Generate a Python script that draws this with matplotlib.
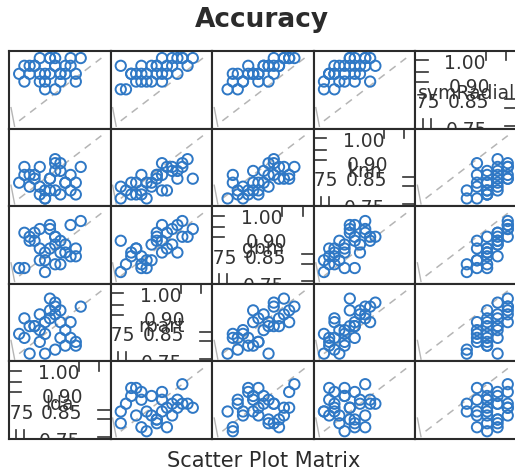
import matplotlib.pyplot as plt
import numpy as np

plt.rcParams['font.family'] = ['DejaVu Sans']

# resample accuracies for each model
names = ["lda", "rpart", "gbm", "knn", "svmRadial"]
lda = [0.883, 0.800, 0.917, 0.750, 0.850, 0.833, 0.767, 0.900, 0.817, 0.867,
       0.783, 0.850, 0.933, 0.800, 0.733, 0.867, 0.833, 0.900, 0.767, 0.817,
       0.850, 0.883, 0.800, 0.750, 0.833, 0.867, 0.783, 0.917, 0.817, 0.850]
rpart = [0.833, 0.900, 0.767, 0.800, 0.950, 0.883, 0.733, 0.867, 0.817, 0.917,
         0.850, 0.750, 0.933, 0.783, 0.817, 0.867, 0.967, 0.800, 0.850, 0.733,
         0.900, 0.767, 0.833, 0.883, 0.917, 0.800, 0.850, 0.783, 0.867, 0.933]
gbm = [0.867, 0.933, 0.817, 0.767, 0.900, 0.850, 0.883, 0.950, 0.800, 0.833,
       0.917, 0.783, 0.967, 0.850, 0.767, 0.883, 0.933, 0.817, 0.900, 0.750,
       0.867, 0.833, 0.800, 0.917, 0.950, 0.783, 0.883, 0.850, 0.833, 0.900]
knn = [0.800, 0.867, 0.750, 0.833, 0.900, 0.767, 0.783, 0.833, 0.733, 0.850,
       0.817, 0.767, 0.867, 0.750, 0.800, 0.883, 0.817, 0.767, 0.833, 0.733,
       0.850, 0.800, 0.783, 0.867, 0.817, 0.750, 0.833, 0.800, 0.767, 0.883]
svm = [0.967, 1.000, 0.933, 0.900, 0.967, 0.933, 0.967, 1.000, 0.900, 0.933,
       0.967, 0.867, 1.000, 0.933, 0.933, 0.900, 1.000, 0.967, 0.933, 0.867,
       0.967, 0.933, 0.900, 0.967, 1.000, 0.933, 0.967, 0.900, 0.933, 1.000]
values = [lda, rpart, gbm, knn, svm]

lims = (0.70, 1.03)
lo_all = np.min(values)
hi_all = np.max(values)

W, H = 515, 472
left, top = 9, 51
pw, ph = 101.6, 77.6
blue = "#2f78c5"
frame = "#2b2b2b"

fig = plt.figure(figsize=(W / 100, H / 100), dpi=100)

for r in range(5):
    for c in range(5):
        ax = fig.add_axes([(left + c * pw) / W, 1 - (top + (r + 1) * ph) / H, pw / W, ph / H])
        xi, yi = c, 4 - r
        ax.set_xlim(lims)
        ax.set_ylim(lims)
        ax.set_xticks([])
        ax.set_yticks([])
        for s in ax.spines.values():
            s.set_color(frame)
            s.set_linewidth(1.5)
        if xi == yi:
            tr = ax.transAxes
            kw = dict(transform=tr, fontsize=13.5, color="#333333", ha="center", va="center", clip_on=True)
            ax.text(0.49, 0.84, "1.00", **kw)
            ax.text(0.53, 0.53, "0.90", **kw)
            ax.text(0.50, 0.45, names[xi], **kw)
            ax.text(0.52, 0.33, "0.85", **kw)
            ax.text(0.04, 0.33, "0.75", **kw)
            ax.text(0.50, -0.03, "0.75", **kw)
            tk = dict(transform=tr, color="#333333", lw=1.2, clip_on=False)
            for yy in [0.88, 0.73, 0.60]:
                ax.plot([0, 0.12], [yy, yy], **tk)
            for yy in [0.38, 0.26, 0.03]:
                ax.plot([0.88, 1.0], [yy, yy], **tk)
            for xx in [0.07, 0.15]:
                ax.plot([xx, xx], [0, 0.12], **tk)
            for xx in [0.69, 0.89]:
                ax.plot([xx, xx], [0.88, 1.0], **tk)
        else:
            ax.plot([lo_all, hi_all], [lo_all, hi_all], color="#b5b5b5", lw=1.1,
                    dashes=(5, 4), zorder=1)
            ax.plot([0.02, 0.055], [0.27, 0.03], transform=ax.transAxes,
                    color="#b5b5b5", lw=1.0, zorder=1)
            ax.scatter(values[xi], values[yi], s=55, facecolors="none",
                       edgecolors=blue, linewidths=1.4, zorder=2)

fig.text(262 / W, 1 - 20 / H, "Accuracy", fontsize=19, fontweight="bold",
         color="#2b2b2b", ha="center", va="center")
fig.text(264 / W, 1 - 461 / H, "Scatter Plot Matrix", fontsize=15,
         color="#2b2b2b", ha="center", va="center")

fig.savefig("out.png", dpi=100)
